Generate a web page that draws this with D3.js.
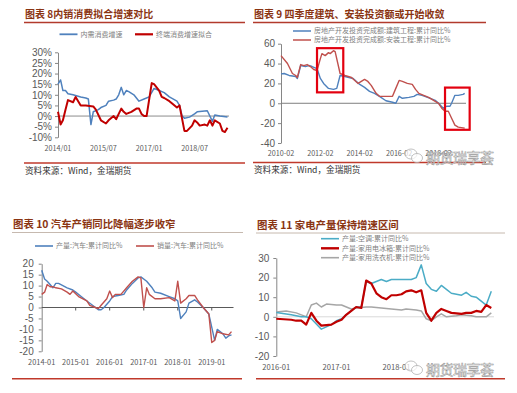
<!DOCTYPE html>
<html>
<head>
<meta charset="utf-8">
<script src="https://cdn.jsdelivr.net/npm/d3@7"></script>
<style>
body { margin: 0; background: #fff; }
svg { display: block; font-family: "Noto Sans CJK SC", "Noto Sans", sans-serif; }
</style>
</head>
<body>
<svg id="chart" width="517" height="393"></svg>
<script>
// NOTE chart 8 - 内需消费增速 vs 终端消费增速拟合 (%)
var neixuXiaofei = [
	['2014-01', 15], ['2014-02', 17], ['2014-03', 12], ['2014-04', 12], ['2014-05', 10.5],
	['2014-07', 10], ['2014-10', 9], ['2014-12', 8.5], ['2015-01', 8], ['2015-02', -4],
	['2015-03', 2], ['2015-05', 3], ['2015-06', 4], ['2015-08', 5], ['2015-09', 7],
	['2015-11', 7.5], ['2015-12', 8], ['2016-01', 10], ['2016-02', 13.5], ['2016-03', 10],
	['2016-04', 12], ['2016-05', 11.5], ['2016-07', 10], ['2016-08', 8.5], ['2016-09', 7],
	['2016-11', 8], ['2017-01', 9], ['2017-03', 13], ['2017-05', 12], ['2017-07', 11],
	['2017-09', 9], ['2017-12', 7], ['2018-01', 5], ['2018-02', 0], ['2018-03', -1],
	['2018-05', -0.5], ['2018-07', 1], ['2018-08', 2], ['2018-12', 2.5], ['2019-02', -2.5],
	['2019-03', 0.5], ['2019-05', 0], ['2019-08', -0.5]
];
var zhongduanNihe = [
	['2014-01', 2], ['2014-02', -4], ['2014-03', -2], ['2014-04', 3], ['2014-05', 7.5],
	['2014-07', 6.5], ['2014-08', 9], ['2014-10', 5], ['2014-12', 5], ['2015-03', 4.5],
	['2015-04', 3], ['2015-06', -2], ['2015-08', -3.5], ['2015-09', -2], ['2015-11', 0],
	['2015-12', -1.5], ['2016-01', 1], ['2016-02', 3.5], ['2016-03', 2], ['2016-04', 1],
	['2016-06', 2], ['2016-08', 3.5], ['2016-09', 3.5], ['2016-10', 1], ['2016-11', 0],
	['2016-12', 0], ['2017-02', 15.5], ['2017-03', 15], ['2017-05', 12], ['2017-06', 9],
	['2017-07', 8.5], ['2017-09', 7], ['2017-10', 6], ['2017-12', 4], ['2018-01', 5],
	['2018-03', -7], ['2018-04', -7], ['2018-06', -4.5], ['2018-07', -2], ['2018-08', -3],
	['2018-09', -4.5], ['2018-11', -4], ['2018-12', -4.5], ['2019-01', -2], ['2019-02', -4.5],
	['2019-03', -2], ['2019-05', -3.5], ['2019-06', -7], ['2019-07', -7.5], ['2019-08', -5.5]
];
var ticks8Y = [-10, -5, 0, 5, 10, 15, 20, 25, 30];
var ticks8X = ['2014-01', '2015-07', '2017-01', '2018-07'];

// NOTE chart 9 - 房地产开发投资完成额 累计同比 (%)
var jianzhuGongcheng = [
	['2010-02', 29.6], ['2010-04', 30], ['2010-07', 28], ['2010-11', 27], ['2010-12', 25],
	['2011-02', 38], ['2011-05', 37], ['2011-07', 38], ['2011-09', 37], ['2011-12', 35],
	['2012-02', 25], ['2012-04', 20], ['2012-07', 15], ['2012-10', 14], ['2012-12', 15],
	['2013-02', 28], ['2013-05', 27], ['2013-10', 25], ['2014-02', 19], ['2014-05', 16],
	['2014-08', 12], ['2014-11', 10], ['2015-02', 7], ['2015-06', 2.5], ['2015-10', 1],
	['2015-12', 0], ['2016-02', 7], ['2016-04', 5], ['2016-08', 6], ['2016-11', 7],
	['2017-01', 9], ['2017-04', 8], ['2017-09', 5], ['2017-12', 3], ['2018-02', 0],
	['2018-05', -5], ['2018-07', -3], ['2018-09', -3], ['2018-10', 0], ['2018-12', 8],
	['2019-02', 8], ['2019-05', 9], ['2019-06', 10]
];
var anzhuangGongcheng = [
	['2010-02', 48], ['2010-06', 40], ['2010-09', 30], ['2010-11', 28], ['2010-12', 26],
	['2011-02', 39], ['2011-04', 38], ['2011-06', 39], ['2011-08', 37], ['2011-10', 34],
	['2011-12', 33], ['2012-02', 45], ['2012-03', 50], ['2012-05', 48], ['2012-07', 51],
	['2012-08', 50], ['2012-10', 53], ['2012-11', 52], ['2013-02', 30], ['2013-05', 28],
	['2013-09', 26], ['2014-01', 20], ['2014-03', 22], ['2014-05', 24], ['2014-07', 22],
	['2014-09', 18], ['2014-12', 10], ['2015-02', 7], ['2015-05', 7], ['2015-10', 7],
	['2015-12', 15], ['2016-02', 23], ['2016-04', 22], ['2016-07', 20], ['2016-10', 19],
	['2016-12', 14], ['2017-02', 10], ['2017-05', 8], ['2017-08', 6], ['2017-11', 3],
	['2018-02', 0], ['2018-04', -5], ['2018-06', -8], ['2018-08', -8], ['2018-10', -15],
	['2018-12', -22], ['2019-02', -24], ['2019-06', -25]
];
var ticks9Y = [-40, -20, 0, 20, 40, 60];
var ticks9X = ['2010-02', '2012-02', '2014-02', '2016-02', '2018-02'];
// highlight boxes: [start month, end month, low value, high value]
var boxes9 = [
	['2011-12', '2013-04', 11, 55.5],
	['2018-06', '2019-09', -26.7, 15.8]
];

// NOTE chart 10 - 汽车 累计同比 (%)
var qicheChanliang = [
	['2014-01', 17], ['2014-02', 13], ['2014-03', 12], ['2014-04', 10.5], ['2014-05', 9],
	['2014-06', 11], ['2014-07', 11], ['2014-10', 9], ['2014-12', 8], ['2015-01', 7],
	['2015-03', 5], ['2015-05', 3], ['2015-07', 1], ['2015-09', -1], ['2015-10', -1],
	['2015-11', 0], ['2016-01', 3], ['2016-02', 5], ['2016-04', 5.5], ['2016-06', 6],
	['2016-07', 8], ['2016-09', 11], ['2016-11', 13.5], ['2016-12', 14], ['2017-02', 12],
	['2017-04', 9], ['2017-05', 7], ['2017-07', 6.5], ['2017-10', 5], ['2017-12', 4],
	['2018-01', 3], ['2018-02', -5], ['2018-04', -2], ['2018-05', 2], ['2018-07', 3.5],
	['2018-08', 2.5], ['2018-10', 0], ['2018-12', -3], ['2019-02', -15], ['2019-03', -10],
	['2019-05', -12], ['2019-06', -14], ['2019-07', -13], ['2019-08', -12.5]
];
var qicheXiaoliang = [
	['2014-01', 6], ['2014-02', 7], ['2014-03', 10.5], ['2014-04', 9.5], ['2014-05', 9.5],
	['2014-06', 9], ['2014-08', 8.5], ['2014-10', 7], ['2014-11', 6], ['2014-12', 7.5],
	['2015-02', 5], ['2015-05', 3], ['2015-06', 1], ['2015-08', 0], ['2015-09', -0.5],
	['2015-10', 1], ['2015-12', 4], ['2016-01', 7.5], ['2016-02', 4.5], ['2016-03', 6],
	['2016-05', 6], ['2016-07', 9], ['2016-09', 12], ['2016-11', 14], ['2016-12', 13.5],
	['2017-01', 0], ['2017-02', 9], ['2017-03', 6], ['2017-05', 4], ['2017-07', 4],
	['2017-10', 4.5], ['2017-12', 3], ['2018-01', 12], ['2018-02', 2], ['2018-04', 4],
	['2018-05', 5.5], ['2018-07', 5.5], ['2018-08', 3.5], ['2018-10', 0], ['2018-12', -3],
	['2019-01', -16], ['2019-02', -15], ['2019-03', -11], ['2019-05', -12], ['2019-07', -12.5],
	['2019-08', -11]
];
var ticks10Y = [-20, -15, -10, -5, 0, 5, 10, 15, 20];
var ticks10X = ['2014-01', '2015-01', '2016-01', '2017-01', '2018-01', '2019-01'];

// NOTE chart 11 - 家电产量 累计同比 (%)
var kongtiao = [
	['2016-01', 2.2], ['2016-04', 1], ['2016-06', 0], ['2016-07', 0], ['2016-08', -1],
	['2016-10', -6.3], ['2016-12', -4], ['2017-01', -2], ['2017-02', -1], ['2017-03', 1],
	['2017-04', 3], ['2017-05', 5], ['2017-06', 5], ['2017-07', 18], ['2017-08', 17],
	['2017-10', 19], ['2017-11', 18], ['2017-12', 19], ['2018-02', 19], ['2018-04', 19],
	['2018-05', 20], ['2018-06', 26.5], ['2018-07', 17], ['2018-08', 14], ['2018-09', 13],
	['2018-10', 16], ['2018-11', 14], ['2018-12', 12], ['2019-02', 11], ['2019-03', 12.5],
	['2019-04', 10.5], ['2019-05', 10], ['2019-07', 6], ['2019-08', 13]
];
var bingxiang = [
	['2016-01', -1], ['2016-04', -1.5], ['2016-05', -2], ['2016-06', -2], ['2016-07', -4],
	['2016-08', 2], ['2016-09', -2], ['2016-10', -4.5], ['2016-12', -4], ['2017-01', -2.5],
	['2017-02', -1.5], ['2017-03', 1], ['2017-04', 3], ['2017-05', 5], ['2017-06', 4.5],
	['2017-07', 18.5], ['2017-08', 17], ['2017-09', 12], ['2017-10', 10], ['2017-11', 9],
	['2017-12', 11], ['2018-01', 11], ['2018-02', 11.5], ['2018-03', 13], ['2018-04', 13.5],
	['2018-05', 12.5], ['2018-06', 13.5], ['2018-07', 2], ['2018-08', -2], ['2018-09', 2],
	['2018-10', 4], ['2018-11', 3], ['2018-12', 2], ['2019-02', 1.5], ['2019-03', 2],
	['2019-04', 2], ['2019-05', 3], ['2019-06', 2.5], ['2019-07', 6], ['2019-08', 4.5]
];
var xiyiji = [
	['2016-01', 2.5], ['2016-03', 3], ['2016-05', 2], ['2016-06', 1], ['2016-07', 0],
	['2016-08', 6], ['2016-09', 7], ['2016-10', 5], ['2016-11', 6.5], ['2017-01', 6],
	['2017-02', 6], ['2017-04', 4], ['2017-05', 4.5], ['2017-07', 5], ['2017-08', 5],
	['2017-10', 4.5], ['2017-12', 4], ['2018-02', 3.5], ['2018-03', 4], ['2018-05', 3.5],
	['2018-06', 3], ['2018-07', -1], ['2018-08', -2], ['2018-09', 0], ['2018-10', 1.5],
	['2018-11', 0], ['2019-01', 0.5], ['2019-02', 1], ['2019-04', 0.5], ['2019-05', 0],
	['2019-07', 0], ['2019-08', 2]
];
var ticks11Y = [-20, -10, 0, 10, 20, 30];
var ticks11X = ['2016-01', '2017-01', '2018-01'];

var parse = d3.timeParse('%Y-%m');
var FONT = '"Noto Sans CJK SC", "Noto Sans", sans-serif';
var svg = d3.select('#chart');

function drawPanel(o) {
	var g = svg.append('g');

	var x = d3.scaleTime()
		.domain([parse(o.xStart), parse(o.xEnd)])
		.range([o.left, o.right]);
	var y = d3.scaleLinear().domain(o.yDomain).range([o.bottom, o.top]);

	var yAxis = d3.axisLeft(y)
		.tickValues(o.yTicks)
		.tickSize(3)
		.tickSizeOuter(0)
		.tickPadding(o.pad)
		.tickFormat(o.yFormat);

	var ag = g.append('g')
		.attr('transform', 'translate(' + o.left + ',0)')
		.attr('font-family', FONT)
		.attr('font-size', o.fs)
		.call(yAxis);
	ag.select('.domain').attr('stroke', '#868686');
	ag.selectAll('.tick line').attr('stroke', '#868686');
	ag.selectAll('.tick text').attr('fill', '#595959');

	// zero line
	g.append('line')
		.attr('x1', o.left)
		.attr('x2', o.zeroEnd)
		.attr('y1', y(0))
		.attr('y2', y(0))
		.attr('stroke', o.zeroColor)
		.attr('stroke-width', 1);

	if (o.xTickMarks) {
		g.selectAll('line.xt')
			.data(o.xTicks.slice(1))
			.enter()
			.append('line')
			.attr('x1', function (d) { return x(parse(d)); })
			.attr('x2', function (d) { return x(parse(d)); })
			.attr('y1', y(0))
			.attr('y2', y(0) + 3)
			.attr('stroke', o.zeroColor);
	}

	g.selectAll('text.xl')
		.data(o.xTicks)
		.enter()
		.append('text')
		.attr('x', function (d) { return x(parse(d)); })
		.attr('y', o.labelY)
		.attr('text-anchor', 'middle')
		.attr('font-size', o.fs)
		.attr('fill', '#595959')
		.text(o.xFormat);

	var line = d3.line()
		.x(function (d) { return x(parse(d[0])); })
		.y(function (d) { return y(d[1]); });

	o.series.forEach(function (s) {
		g.append('path')
			.datum(s.data)
			.attr('d', line)
			.attr('fill', 'none')
			.attr('stroke', s.color)
			.attr('stroke-width', s.width)
			.attr('stroke-linejoin', 'round');
	});

	if (o.boxes) {
		g.selectAll('rect.box')
			.data(o.boxes)
			.enter()
			.append('rect')
			.attr('x', function (d) { return x(parse(d[0])); })
			.attr('y', function (d) { return y(d[3]); })
			.attr('width', function (d) { return x(parse(d[1])) - x(parse(d[0])); })
			.attr('height', function (d) { return y(d[2]) - y(d[3]); })
			.attr('fill', 'none')
			.attr('stroke', '#e3000f')
			.attr('stroke-width', 2.2);
	}

	// legend
	o.legend.forEach(function (l) {
		g.append('line')
			.attr('x1', l.x)
			.attr('x2', l.x + 18)
			.attr('y1', l.y)
			.attr('y2', l.y)
			.attr('stroke', l.color)
			.attr('stroke-width', l.width);
		g.append('text')
			.attr('x', l.x + 21)
			.attr('y', l.y + 2.4)
			.attr('font-size', 7)
			.attr('fill', '#7f7f7f')
			.text(l.label);
	});
}

function header(x, y, x2, text, fs, lineColor, lineW) {
	svg.append('text')
		.attr('x', x)
		.attr('y', y)
		.attr('font-size', fs)
		.attr('font-weight', 'bold')
		.attr('fill', '#8a3412')
		.text(text);
	svg.append('line')
		.attr('x1', x - 1)
		.attr('x2', x2)
		.attr('y1', y + 4.5)
		.attr('y2', y + 4.5)
		.attr('stroke', lineColor)
		.attr('stroke-width', lineW);
}

function footer(x, y, x2, text) {
	svg.append('line')
		.attr('x1', x - 1)
		.attr('x2', x2)
		.attr('y1', y)
		.attr('y2', y)
		.attr('stroke', '#c0392b')
		.attr('stroke-width', 1.4);
	if (text) {
		svg.append('text')
			.attr('x', x)
			.attr('y', y + 10.5)
			.attr('font-size', 8.6)
			.attr('fill', '#333')
			.text(text);
	}
}

function watermark(x, y) {
	var w = svg.append('g').attr('transform', 'translate(' + x + ',' + y + ')');
	w.append('ellipse').attr('cx', 5).attr('cy', -4).attr('rx', 6).attr('ry', 5)
		.attr('fill', 'rgba(255,255,255,0.7)').attr('stroke', '#a8a8a8').attr('stroke-width', 0.7);
	w.append('ellipse').attr('cx', 11).attr('cy', 0).attr('rx', 5.5).attr('ry', 4.5)
		.attr('fill', 'rgba(255,255,255,0.7)').attr('stroke', '#a8a8a8').attr('stroke-width', 0.7);
	w.append('text')
		.attr('x', 20)
		.attr('y', 5)
		.attr('font-size', 14)
		.attr('letter-spacing', -0.5)
		.attr('fill', 'rgba(255,255,255,0.75)')
		.attr('stroke', '#999')
		.attr('stroke-width', 0.55)
		.text('期货瑞享荟');
}

var pctFmt = function (d) { return d + '%'; };
var numFmt = function (d) { return d; };

// NOTE panel 8
header(25, 18, 245, '图表 8内销消费拟合增速对比', 10, '#b23a2c', 1.4);
drawPanel({
	left: 58, right: 227.5, xStart: '2014-01', xEnd: '2019-08',
	top: 52.3, bottom: 137.3, yDomain: [-10, 30], yTicks: ticks8Y, yFormat: pctFmt,
	pad: 3, fs: 7.2, zeroEnd: 229, zeroColor: '#8c8c8c',
	xTicks: ticks8X, labelY: 150.5, xFormat: function (d) { return d.replace('-', '/'); },
	series: [
		{ data: neixuXiaofei, color: '#4f81bd', width: 1.5 },
		{ data: zhongduanNihe, color: '#c00000', width: 2 }
	],
	legend: [
		{ x: 59.5, y: 34.3, color: '#4f81bd', width: 1.8, label: '内需消费增速' },
		{ x: 135, y: 34.3, color: '#c00000', width: 2.2, label: '终端消费增速拟合' }
	]
});
footer(25, 163, 245, '资料来源：Wind，金瑞期货');

// NOTE panel 9
header(254, 18, 486, '图表 9 四季度建筑、安装投资额或开始收敛', 10, '#b23a2c', 1.4);
drawPanel({
	left: 281, right: 464.7, xStart: '2010-02', xEnd: '2019-06',
	top: 43.7, bottom: 143, yDomain: [-40, 60], yTicks: ticks9Y, yFormat: numFmt,
	pad: 3, fs: 7.2, zeroEnd: 466, zeroColor: '#7f7f7f',
	xTicks: ticks9X, labelY: 155.8, xFormat: function (d) { return d; },
	series: [
		{ data: jianzhuGongcheng, color: '#4f81bd', width: 1.4 },
		{ data: anzhuangGongcheng, color: '#c0504d', width: 1.4 }
	],
	boxes: boxes9,
	legend: [
		{ x: 293, y: 31, color: '#4f81bd', width: 1.5, label: '房地产开发投资完成额:建筑工程:累计同比%' },
		{ x: 293, y: 40, color: '#c0504d', width: 1.5, label: '房地产开发投资完成额:安装工程:累计同比%' }
	]
});
footer(254, 162.5, 486, '资料来源：Wind，金瑞期货');
watermark(406, 158);

// NOTE panel 10
header(13, 228, 243, '图表 10 汽车产销同比降幅逐步收窄', 10.4, '#b7a79a', 0.8);
drawPanel({
	left: 41.7, right: 231.5, xStart: '2014-01', xEnd: '2019-08',
	top: 263.7, bottom: 351.3, yDomain: [-20, 20], yTicks: ticks10Y, yFormat: numFmt,
	pad: 5, fs: 7.4, zeroEnd: 233.5, zeroColor: '#595959', xTickMarks: true,
	xTicks: ticks10X, labelY: 364.5, xFormat: function (d) { return d; },
	series: [
		{ data: qicheChanliang, color: '#4f81bd', width: 1.4 },
		{ data: qicheXiaoliang, color: '#c0504d', width: 1.4 }
	],
	legend: [
		{ x: 35, y: 246, color: '#4f81bd', width: 1.6, label: '产量:汽车:累计同比%' },
		{ x: 136, y: 246, color: '#c0504d', width: 1.6, label: '销量:汽车:累计同比%' }
	]
});
footer(13, 378.7, 242, null);

// NOTE panel 11
header(257, 228.5, 505, '图表 11 家电产量保持增速区间', 10.4, '#b7a79a', 0.8);
drawPanel({
	left: 276.3, right: 491.3, xStart: '2016-01', xEnd: '2019-08',
	top: 258, bottom: 356, yDomain: [-20, 30], yTicks: ticks11Y, yFormat: numFmt,
	pad: 4, fs: 7.6, zeroEnd: 494, zeroColor: '#d9d9d9',
	xTicks: ticks11X, labelY: 369.5, xFormat: function (d) { return d; },
	series: [
		{ data: xiyiji, color: '#a6a6a6', width: 1.5 },
		{ data: kongtiao, color: '#4bacc6', width: 1.5 },
		{ data: bingxiang, color: '#c00000', width: 2.2 }
	],
	legend: [
		{ x: 321, y: 238.7, color: '#4bacc6', width: 1.6, label: '产量:空调:累计同比%' },
		{ x: 321, y: 248.3, color: '#c00000', width: 2.4, label: '产量:家用电冰箱:累计同比%' },
		{ x: 321, y: 257.7, color: '#a6a6a6', width: 1.6, label: '产量:家用洗衣机:累计同比%' }
	]
});
footer(257, 378.7, 505, null);
watermark(406, 370);
</script>
</body>
</html>
